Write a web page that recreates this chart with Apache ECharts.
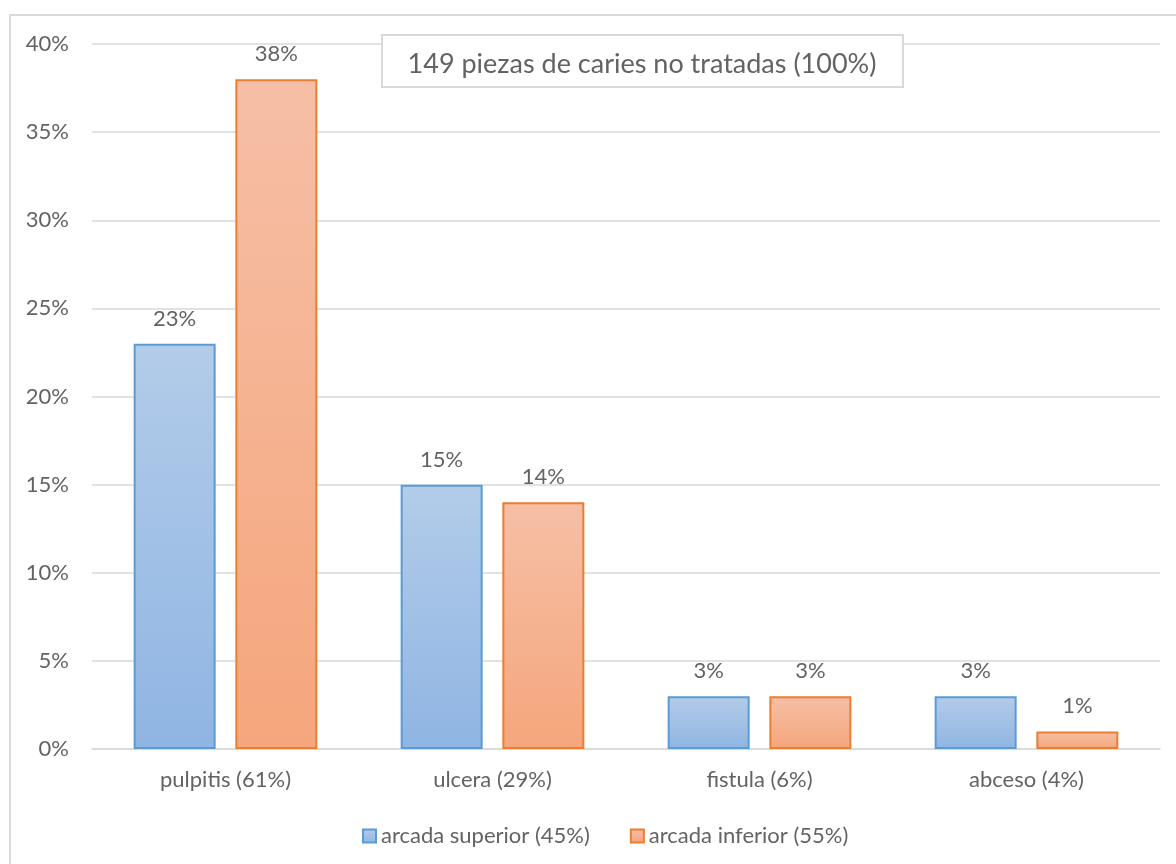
<!DOCTYPE html>
<html>
<head>
<meta charset="utf-8">
<script src="https://cdn.jsdelivr.net/npm/echarts@6/dist/echarts.min.js"></script>
<style>
  html, body { margin: 0; padding: 0; background: #ffffff; }
  #chart { width: 1176px; height: 864px; }
</style>
</head>
<body>
<div id="chart"></div>
<script>
// Lesiones por caries no tratadas, por arcada
const categories = ['pulpitis (61%)', 'ulcera (29%)', 'fistula (6%)', 'abceso (4%)'];
const seriesNames = ['arcada superior (45%)', 'arcada inferior (55%)'];
const superiorValues = [23, 15, 3, 3];
const inferiorValues = [38, 14, 3, 1];
const yTicks = [0, 5, 10, 15, 20, 25, 30, 35, 40];
const headline = '149 piezas de caries no tratadas (100%)';

const FONT = 'Lato, "Open Sans", sans-serif';
const TEXT = '#636363';

function grad(top, bottom) {
  return new echarts.graphic.LinearGradient(0, 0, 0, 1, [
    { offset: 0, color: top },
    { offset: 1, color: bottom }
  ]);
}

const chart = echarts.init(document.getElementById('chart'), null, { renderer: 'canvas' });

const labelStyle = {
  show: true,
  position: 'top',
  distance: 14,
  formatter: p => p.value + '%',
  color: TEXT,
  fontFamily: FONT,
  fontSize: 22
};

chart.setOption({
  backgroundColor: '#ffffff',
  animation: false,
  grid: { left: 92, right: 16, top: 44, bottom: 115, containLabel: false },
  legend: {
    left: 357,
    top: 820,
    itemWidth: 13,
    itemHeight: 13,
    itemGap: 40,
    icon: 'rect',
    textStyle: { color: TEXT, fontFamily: FONT, fontSize: 22 },
    data: seriesNames
  },
  xAxis: {
    type: 'category',
    data: categories,
    axisLine: { lineStyle: { color: '#d9d9d9', width: 1.5 } },
    axisTick: { show: false },
    axisLabel: { color: TEXT, fontFamily: FONT, fontSize: 22, margin: 20 }
  },
  yAxis: {
    type: 'value',
    min: yTicks[0],
    max: yTicks[yTicks.length - 1],
    interval: 5,
    axisLine: { show: false },
    axisTick: { show: false },
    splitLine: { lineStyle: { color: '#d9d9d9', width: 1.5 } },
    axisLabel: { color: TEXT, fontFamily: FONT, fontSize: 22, margin: 23, formatter: v => v + '%' }
  },
  series: [
    {
      name: seriesNames[0],
      type: 'bar',
      data: superiorValues,
      barWidth: 82,
      barGap: '24%',
      itemStyle: { color: grad('#b3cce9', '#8fb5e3'), borderColor: '#5b9bd5', borderWidth: 2 },
      label: labelStyle
    },
    {
      name: seriesNames[1],
      type: 'bar',
      data: inferiorValues,
      barWidth: 82,
      itemStyle: { color: grad('#f6bfa6', '#f5a67c'), borderColor: '#ed7d31', borderWidth: 2 },
      label: labelStyle
    }
  ],
  graphic: [
    {
      type: 'rect',
      shape: { x: 10, y: 15, width: 1180, height: 870 },
      style: { fill: null, stroke: '#d9d9d9', lineWidth: 2 },
      silent: true
    },
    {
      type: 'rect',
      z: 10,
      shape: { x: 382, y: 35, width: 521, height: 52 },
      style: { fill: '#ffffff', stroke: '#d9d9d9', lineWidth: 2 },
      silent: true
    },
    {
      type: 'text',
      z: 11,
      x: 642,
      y: 64,
      style: {
        text: headline,
        fill: TEXT,
        font: '27px ' + FONT,
        align: 'center',
        verticalAlign: 'middle'
      },
      silent: true
    }
  ]
});
</script>
</body>
</html>
